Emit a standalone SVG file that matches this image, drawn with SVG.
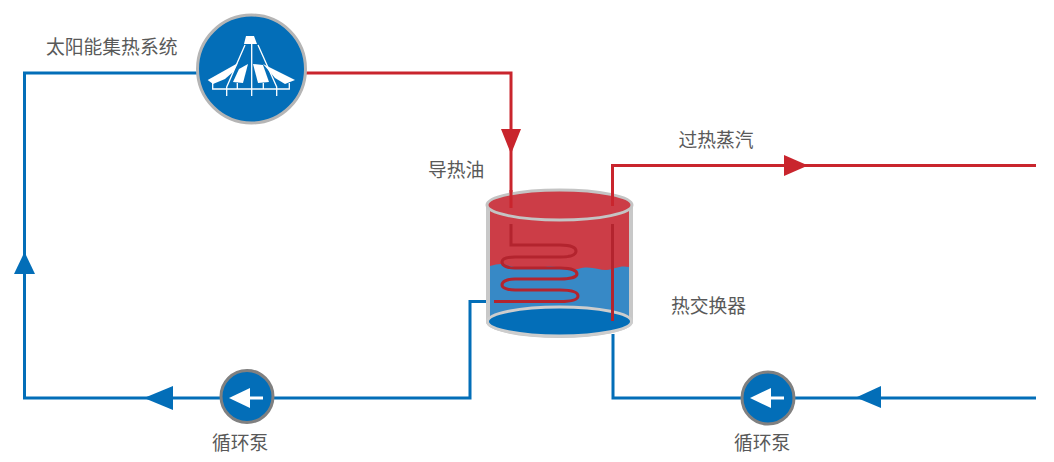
<svg xmlns="http://www.w3.org/2000/svg" width="1054" height="462" viewBox="0 0 1054 462">
<style>
text{font-family:"Noto Sans CJK SC","Noto Sans CJK JP",sans-serif;font-size:18.800px;fill:#595959}
.b{fill:none;stroke:#036eb8;stroke-width:3}
.r{fill:none;stroke:#c9252d;stroke-width:3}
.w{fill:none;stroke:#fff;stroke-width:1.300}
.coil{fill:none;stroke:#b3242e;stroke-width:3}
</style>
<rect width="1054" height="462" fill="#fff"/>
<g id="connectors">
<path class="b" d="M197 73H24.500V398H220"/>
<path class="b" d="M274 398H470V301.500H494"/>
<path class="b" d="M613 334V398H741"/>
<path class="b" d="M795 398H1036"/>
<path class="r" d="M306 73H511V208"/>
<path class="r" d="M1036 165.500H612.500V206"/>
<polygon points="14,274 35,274 24.500,252" fill="#036eb8"/>
<polygon points="173,386 173,410 144,398" fill="#036eb8"/>
<polygon points="881,386 881,408 856,397.500" fill="#036eb8"/>
<polygon points="501,129 521,129 511,154" fill="#c9252d"/>
<polygon points="784,155 784,176 808,165.500" fill="#c9252d"/>
</g>
<g id="solar">
<circle cx="251.500" cy="69" r="54" fill="#036eb8" stroke="#b5b5b5" stroke-width="3"/>
<path class="w" d="M251.700 44V96M245 45L226.700 87V96M258 45L276.700 87V96M212.700 83V89H289.300V83M237.300 83V89M263.300 83V89"/>
<polygon points="246,36 254,36 257,44 244,44" fill="#fff"/>
<polygon points="207.700,80 238,63 233,72 225,79 213,84" fill="#fff"/>
<polygon points="239,69 248,64 243,83 233,82" fill="#fff"/>
<polygon points="253,64 263,65 269,82 258,83" fill="#fff"/>
<polygon points="263,64 295,80 285,84 275,78" fill="#fff"/>
</g>
<g id="exchanger">
<path d="M486 205V322A73.500 16 0 0 0 633 322V205Z" fill="#c8c8c8"/>
<path d="M490 205H629V321H490Z" fill="#cc3d47"/>
<path d="M490 266C498 264 502 263 510 266C525 270 535 267 545 267C558 265 568 271 578 269C590 265 598 270 606 270C615 269 620 265 629 267V321H490Z" fill="#3789c6"/>
<ellipse cx="559.500" cy="321.500" rx="72" ry="14.500" fill="#036eb8" stroke="#cdcdcd" stroke-width="3"/>
<ellipse cx="559.500" cy="205" rx="72.500" ry="15" fill="#cc3d47" stroke="#c4c4c4" stroke-width="3"/>
<path class="r" d="M511 190V208M612.500 190V206"/>
<path class="coil" d="M511 224V245H560C572 245 576 248 576 251C576 255 570 257 560 257H515C506 257 502 259 502 262C502 266 508 268 515 268H560C572 268 577 271 577 274C577 277 570 279 560 279H515C506 279 502 282 502 285C502 288 508 290 515 290H560C572 290 578 292 578 296C578 300 570 301.500 560 301.500H494"/>
<path class="coil" d="M612.500 224V321"/>
</g>
<g id="pump1">
<circle cx="247" cy="396.500" r="26" fill="#036eb8" stroke="#808080" stroke-width="3"/>
<polygon points="229,398 250,388 250,408" fill="#fff"/>
<rect x="250" y="396.500" width="13" height="3" fill="#fff"/>
</g>
<g id="pump2">
<circle cx="768" cy="398" r="26" fill="#036eb8" stroke="#808080" stroke-width="3"/>
<polygon points="750,398 771,388 771,408" fill="#fff"/>
<rect x="771" y="396.500" width="13" height="3" fill="#fff"/>
</g>
<g id="labels">
<text x="46" y="54">太阳能集热系统</text>
<text x="428" y="177">导热油</text>
<text x="678.500" y="147">过热蒸汽</text>
<text x="671" y="313">热交换器</text>
<text x="212" y="450">循环泵</text>
<text x="734" y="450">循环泵</text>
</g>
</svg>
